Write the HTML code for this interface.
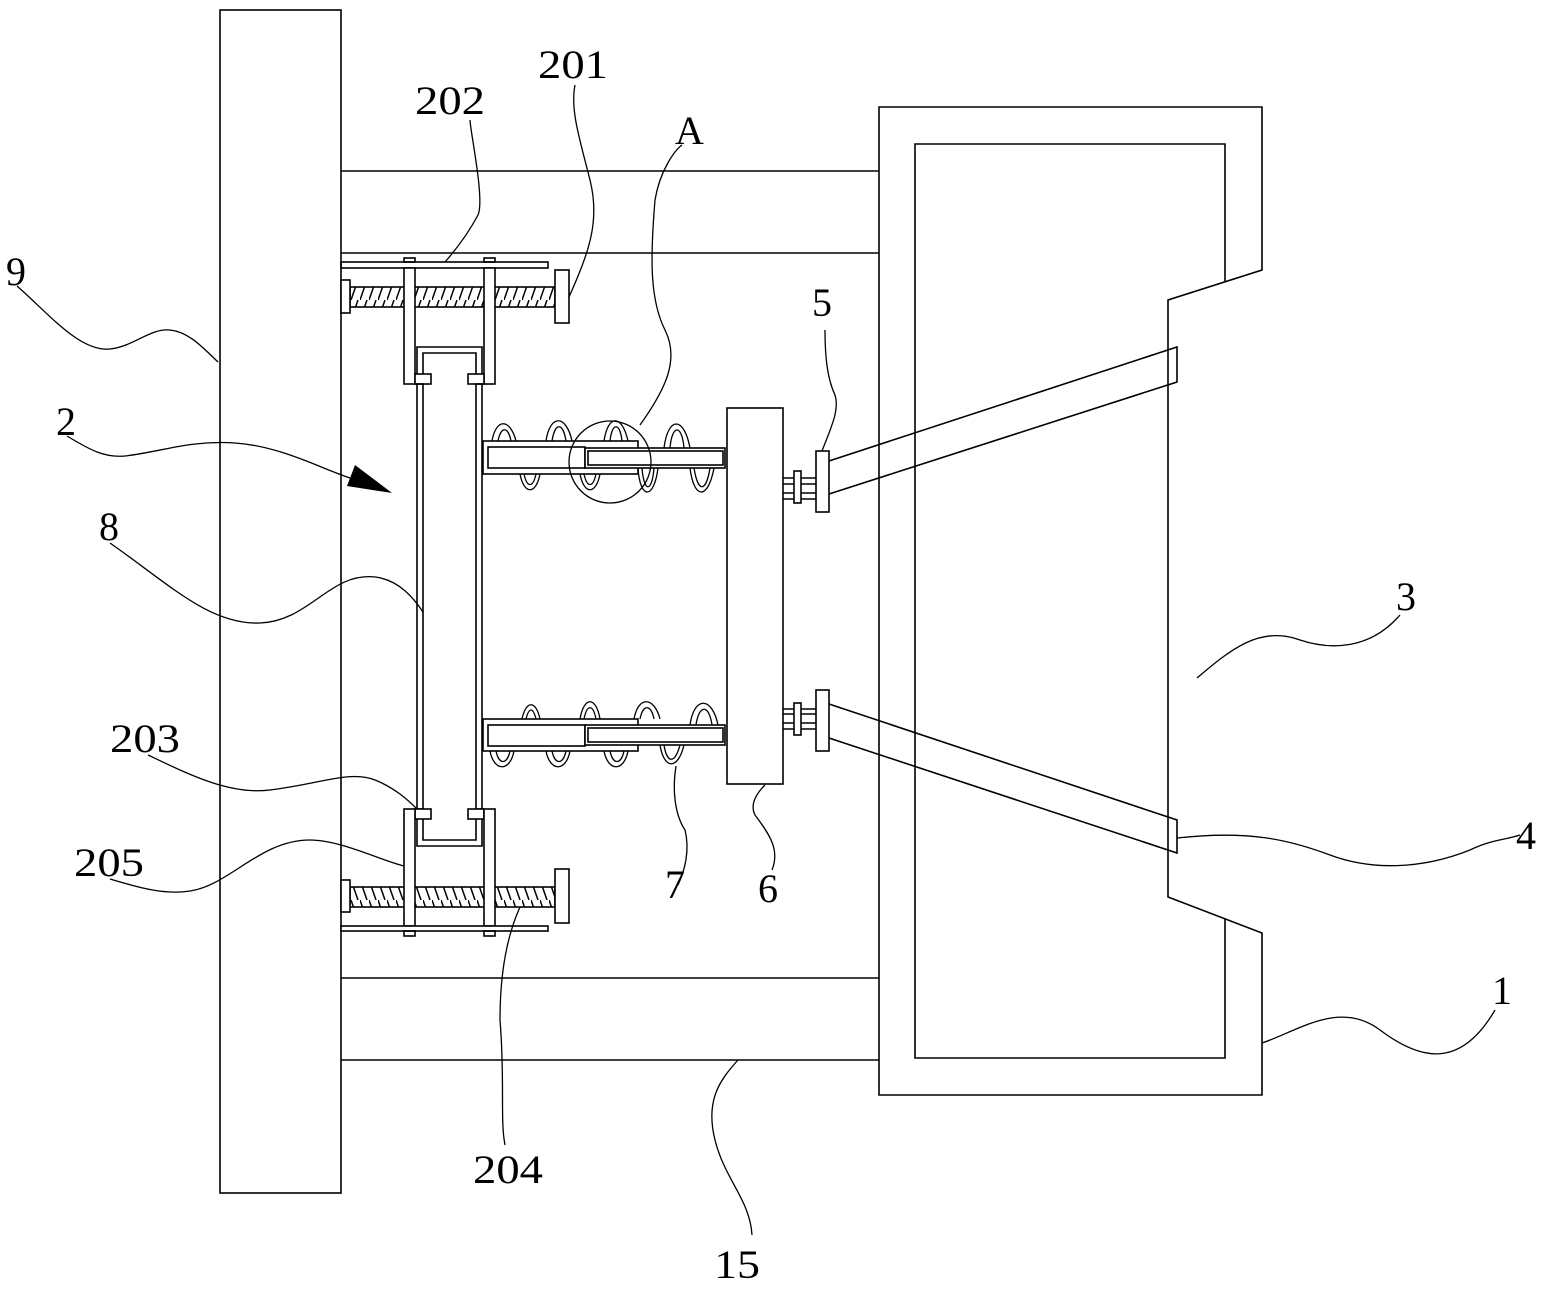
<!DOCTYPE html>
<html><head><meta charset="utf-8"><style>
html,body{margin:0;padding:0;background:#fff;}
svg{display:block;}
text{font-family:"Liberation Serif",serif;font-size:40px;fill:#000;}
</style></head><body>
<svg width="1551" height="1292" viewBox="0 0 1551 1292" xmlns="http://www.w3.org/2000/svg">
<defs>
<pattern id="h1" width="9" height="20" patternUnits="userSpaceOnUse"><line x1="0" y1="20" x2="7" y2="0" stroke="#000" stroke-width="1.5"/></pattern>
<pattern id="h2" width="9" height="20" patternUnits="userSpaceOnUse"><line x1="0" y1="0" x2="7" y2="20" stroke="#000" stroke-width="1.5"/></pattern>
</defs>
<g fill="none" stroke="#000" stroke-width="1.6">
<rect x="220" y="10" width="121" height="1183" fill="#fff"/>
<line x1="341" y1="171" x2="879" y2="171"/>
<line x1="341" y1="253" x2="879" y2="253"/>
<line x1="341" y1="978" x2="879" y2="978"/>
<line x1="341" y1="1060" x2="879" y2="1060"/>
<path d="M879,107 H1262 V270 L1168,300 V897 L1262,933 V1095 H879 Z"/>
<path d="M1225,281 V144 H915 V1058 H1225 V919"/>
<rect x="341" y="262" width="207" height="6"/>
<rect x="350" y="287" width="205" height="20" fill="url(#h1)"/>
<rect x="341" y="280" width="9" height="33" fill="#fff"/>
<rect x="555" y="270" width="14" height="53" fill="#fff"/>
<rect x="404" y="258" width="11" height="4"/>
<rect x="484" y="258" width="11" height="4"/>
<rect x="404" y="268" width="11" height="116" fill="#fff"/>
<rect x="484" y="268" width="11" height="116" fill="#fff"/>
<path d="M417,374 V347 H482 V374"/>
<path d="M423,374 V353 H476 V374"/>
<rect x="415" y="374" width="16" height="10" fill="#fff"/>
<rect x="468" y="374" width="16" height="10" fill="#fff"/>
<rect x="417" y="384" width="6" height="425"/>
<rect x="476" y="384" width="6" height="425"/>
<rect x="415" y="809" width="16" height="10" fill="#fff"/>
<rect x="468" y="809" width="16" height="10" fill="#fff"/>
<path d="M417,819 V846 H482 V819"/>
<path d="M423,819 V840 H476 V819"/>
<rect x="350" y="887" width="205" height="20" fill="url(#h2)"/>
<rect x="404" y="809" width="11" height="117" fill="#fff"/>
<rect x="484" y="809" width="11" height="117" fill="#fff"/>
<rect x="341" y="880" width="9" height="32" fill="#fff"/>
<rect x="555" y="869" width="14" height="54" fill="#fff"/>
<rect x="341" y="926" width="207" height="5" fill="#fff"/>
<rect x="404" y="931" width="11" height="5"/>
<rect x="484" y="931" width="11" height="5"/>
<g stroke-width="1.3">
<path d="M492,441 C496,418 510,418 516,441 M498,441 C501,426 508,426 511,441"/>
<path d="M546,441 C550,414 566,414 572,441 M552,441 C555,422 563,422 566,441"/>
<path d="M604,441 C608,414 622,414 628,441 M610,441 C612,422 620,422 622,441"/>
<path d="M664,448 C668,416 684,416 690,448 M670,448 C672,424 682,424 684,448"/>
<path d="M520,474 C524,495 536,495 540,474 M524,474 C527,488 533,488 536,474"/>
<path d="M580,474 C584,495 596,495 600,474 M584,474 C587,488 593,488 596,474"/>
<path d="M638,468 C640,500 654,500 658,468 M642,468 C644,493 652,493 654,468"/>
<path d="M690,468 C694,500 708,500 714,468 M694,468 C698,493 706,493 710,468"/>
</g>
<rect x="483" y="441" width="155" height="33"/>
<rect x="488" y="447" width="97" height="21" fill="#fff"/>
<rect x="585" y="448" width="140" height="20" fill="#fff"/>
<rect x="588" y="451" width="135" height="14"/>
<circle cx="610" cy="462" r="41" stroke-width="1.3"/>
<g stroke-width="1.3">
<path d="M522,719 C526,700 536,700 540,719 M526,719 C529,707 533,707 536,719"/>
<path d="M580,719 C584,696 596,696 600,719 M584,719 C587,704 593,704 596,719"/>
<path d="M634,719 C638,696 654,696 660,719 M640,719 C643,704 651,704 654,719"/>
<path d="M690,725 C694,696 712,696 718,725 M696,725 C699,704 709,704 712,725"/>
<path d="M490,751 C494,772 510,772 514,751 M496,751 C499,765 507,765 510,751"/>
<path d="M546,751 C550,772 566,772 570,751 M552,751 C555,765 563,765 566,751"/>
<path d="M604,751 C608,772 624,772 628,751 M610,751 C613,765 621,765 624,751"/>
<path d="M660,745 C664,770 678,770 684,745 M664,745 C667,764 675,764 680,745"/>
</g>
<rect x="483" y="719" width="155" height="32"/>
<rect x="488" y="725" width="97" height="21" fill="#fff"/>
<rect x="585" y="725" width="140" height="20" fill="#fff"/>
<rect x="588" y="728" width="135" height="14"/>
<rect x="727" y="408" width="56" height="376" fill="#fff"/>
<line x1="783" y1="478" x2="816" y2="478"/><line x1="783" y1="484" x2="816" y2="484"/>
<line x1="783" y1="493" x2="816" y2="493"/><line x1="783" y1="499" x2="816" y2="499"/>
<rect x="794" y="471" width="7" height="32" fill="#fff"/>
<rect x="816" y="451" width="13" height="61" fill="#fff"/>
<path d="M829,461 L1177,347 V382 L829,494"/>
<line x1="783" y1="709" x2="816" y2="709"/><line x1="783" y1="714" x2="816" y2="714"/>
<line x1="783" y1="723" x2="816" y2="723"/><line x1="783" y1="729" x2="816" y2="729"/>
<rect x="794" y="703" width="7" height="32" fill="#fff"/>
<rect x="816" y="690" width="13" height="61" fill="#fff"/>
<path d="M829,704 L1177,820 V853 L829,738"/>
<g stroke-width="1.3">
<path d="M17,286 C50,315 80,352 110,349 C135,346 150,328 170,330 C190,332 205,350 218,362"/>
<path d="M67,436 C90,450 105,458 125,456 C160,452 190,440 235,443 C280,446 320,468 350,478"/>
<path d="M110,543 C170,585 210,625 260,623 C310,621 330,572 375,577 C400,580 415,600 423,612"/>
<path d="M148,755 C190,775 230,795 270,790 C320,784 350,770 375,780 C395,788 408,800 417,809"/>
<path d="M110,879 C140,888 165,895 190,891 C230,885 260,840 310,840 C340,840 380,860 404,866"/>
<path d="M445,262 C460,245 470,230 478,215 C485,200 470,130 470,120"/>
<path d="M569,297 C590,250 600,220 590,180 C580,140 570,110 575,85"/>
<path d="M640,425 C665,390 680,360 665,330 C650,300 650,260 655,200 C660,170 675,150 682,145"/>
<path d="M822,451 C830,430 840,410 835,395 C828,380 825,360 825,330"/>
<path d="M1197,678 C1230,650 1260,625 1300,640 C1330,650 1370,650 1400,615"/>
<path d="M676,766 C672,790 675,815 685,830 C690,850 685,870 678,885"/>
<path d="M765,785 C755,795 750,805 755,815 C770,835 780,850 772,870"/>
<path d="M1177,838 C1250,830 1290,840 1330,855 C1370,870 1420,870 1470,850 C1490,840 1505,840 1520,835"/>
<path d="M1262,1043 C1300,1030 1340,1000 1380,1030 C1420,1060 1460,1070 1495,1010"/>
<path d="M520,907 C505,940 500,980 500,1020 C505,1080 500,1120 505,1145"/>
<path d="M738,1060 C720,1080 705,1100 715,1140 C725,1180 750,1200 752,1235"/>
</g>
</g>
<polygon points="347,486 355,465 392,493" fill="#000"/>
<text x="6" y="285">9</text>
<text x="56" y="435">2</text>
<text x="99" y="540">8</text>
<text x="110" y="752" textLength="70" lengthAdjust="spacingAndGlyphs">203</text>
<text x="74" y="876" textLength="70" lengthAdjust="spacingAndGlyphs">205</text>
<text x="415" y="114" textLength="70" lengthAdjust="spacingAndGlyphs">202</text>
<text x="538" y="78" textLength="70" lengthAdjust="spacingAndGlyphs">201</text>
<text x="675" y="144">A</text>
<text x="812" y="316">5</text>
<text x="1396" y="610">3</text>
<text x="665" y="898">7</text>
<text x="758" y="902">6</text>
<text x="1516" y="849">4</text>
<text x="1492" y="1004">1</text>
<text x="473" y="1183" textLength="70" lengthAdjust="spacingAndGlyphs">204</text>
<text x="714" y="1278" textLength="46" lengthAdjust="spacingAndGlyphs">15</text>
</svg>
</body></html>
